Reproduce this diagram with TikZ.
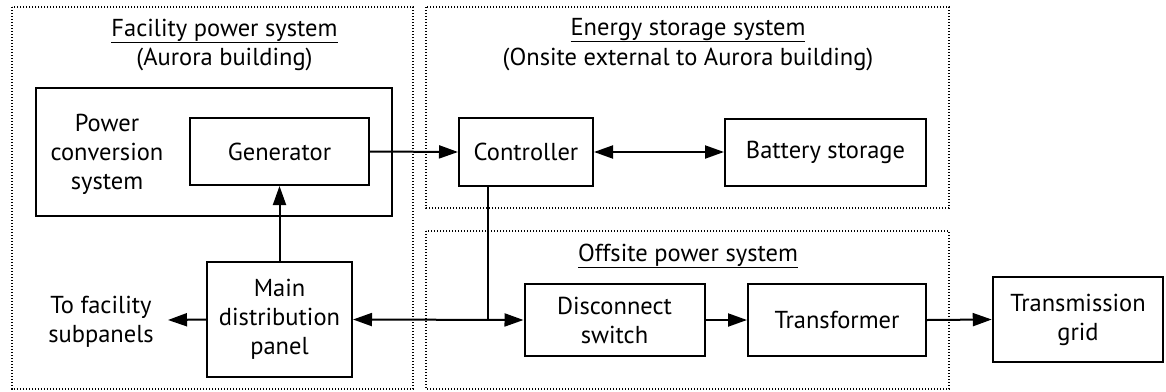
\documentclass[tikz,border=0pt]{standalone}
\usepackage{fontspec}
\setmainfont{PT Sans}
\usetikzlibrary{arrows.meta}
\begin{document}
\begin{tikzpicture}[x=1pt,y=-1pt,
  font=\fontsize{24.5}{29}\selectfont,
  box/.style={draw, line width=2pt, inner sep=0pt, align=center},
  bigbox/.style={draw, line width=2.5pt, inner sep=0pt, align=center},
  region/.style={draw=black, line width=1.3pt, dash pattern=on 1.2pt off 1.8pt},
  lbl/.style={inner sep=0pt, align=center},
  ttl/.style={inner sep=0pt, anchor=base},
  conn/.style={line width=2pt, -{Triangle[length=19pt,width=13pt]}},
  dconn/.style={line width=2pt, {Triangle[length=19pt,width=13pt]}-{Triangle[length=19pt,width=13pt]}},
  thin/.style={line width=1.4pt}
]
\useasboundingbox (0,0) rectangle (1166,391);
% regions
\draw[region] (12,7) rectangle (413,389);
\draw[region] (426,7) rectangle (949,208);
\draw[region] (426,231) rectangle (949,389);
% titles
\node[ttl] (t1) at (224.5,36) {\underline{Facility power system}};
\node[ttl] (t1b) at (224.5,65) {(Aurora building)};
\node[ttl] (t2) at (688,35) {\underline{Energy storage system}};
\node[ttl] (t2b) at (688,65) {(Onsite external to Aurora building)};
\node[ttl] (t3) at (688,261) {\underline{Offsite power system}};
% boxes
\node[bigbox, minimum width=356pt, minimum height=128pt] (pcs) at (214,152) {};
\node[lbl] (pcslbl) at (107,154) {Power\\conversion\\system};
\node[box, minimum width=179pt, minimum height=67pt] (gen) at (279.5,151.5) {Generator};
\node[box, minimum width=134pt, minimum height=68pt] (ctrl) at (526,152) {Controller};
\node[box, minimum width=201pt, minimum height=67pt] (bat) at (825.5,152) {Battery storage};
\node[box, minimum width=145pt, minimum height=115pt] (mdp) at (279.5,319.5) {Main\\distribution\\panel};
\node[box, minimum width=180pt, minimum height=72pt] (disc) at (614.5,320) {Disconnect\\switch};
\node[box, minimum width=178pt, minimum height=72pt] (trf) at (837,320) {Transformer};
\node[bigbox, minimum width=170pt, minimum height=85pt] (grid) at (1078,319.5) {Transmission\\grid};
\node[lbl] (tofac) at (101,322) {To facility\\subpanels};
\coordinate (tofacend) at (168,320);
\coordinate (junc) at (488,320);
% connectors
\draw[conn] (gen.east) -- (ctrl.west);
\draw[dconn] (ctrl.east) -- (bat.west);
\draw[conn] (mdp.north) -- (gen.south);
\draw[conn] (mdp.west) -- (tofacend);
\draw[dconn] (mdp.east) -- (disc.west);
\draw[thin] (ctrl.south -| junc) -- (junc);
\draw[conn] (disc.east) -- (trf.west);
\draw[conn] (trf.east) -- (grid.west);
\end{tikzpicture}
\end{document}
